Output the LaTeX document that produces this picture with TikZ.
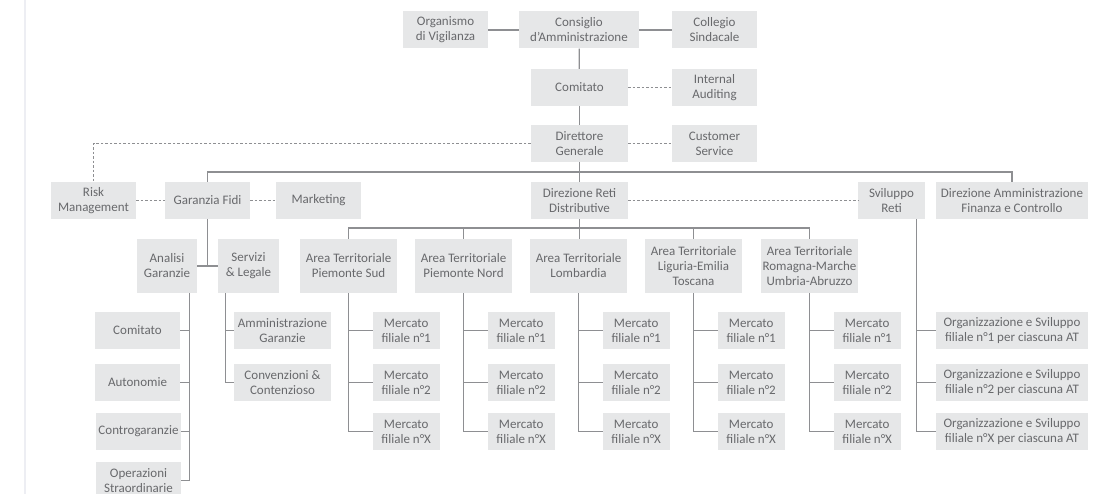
\documentclass[tikz,border=0pt]{standalone}
\usepackage{fontspec}
\setmainfont{Carlito}
\definecolor{boxgrey}{HTML}{E6E7E8}
\definecolor{txtgrey}{HTML}{68696C}
\definecolor{linegrey}{HTML}{8E8F92}
\definecolor{edgegrey}{HTML}{EDEEF3}
\tikzset{
  box/.style={fill=boxgrey, text=txtgrey, align=center, inner sep=0pt,
    minimum height=37pt, font=\fontsize{13}{15}\selectfont},
  tallbox/.style={box, minimum height=54pt, minimum width=97pt},
  link/.style={draw=linegrey, line width=1.2pt},
  dots/.style={link, dash pattern=on 2.5pt off 2pt},
}

\begin{document}
\begin{tikzpicture}[x=1pt,y=-1pt]
    \useasboundingbox (0,0) rectangle (1100,494);
    \fill[white] (0,0) rectangle (1100,494);
    \draw[edgegrey, line width=2.5pt] (25,0) -- (25,494);
    % vertice
    \node[box, minimum width=85pt] (org) at (445.5,30) {Organismo\\di Vigilanza};
    \node[box, minimum width=120pt] (cda) at (579,30) {Consiglio\\d’Amministrazione};
    \node[box, minimum width=85pt] (col) at (714.5,30) {Collegio\\Sindacale};
    \node[box, minimum width=97pt] (com) at (579.5,87.5) {Comitato};
    \node[box, minimum width=85pt] (aud) at (714.5,87.5) {Internal\\Auditing};
    \node[box, minimum width=97pt] (dg) at (579.5,143.5) {Direttore\\Generale};
    \node[box, minimum width=85pt] (cs) at (714.5,143.5) {Customer\\Service};
    \draw[link] (org) -- (cda);
    \draw[link] (cda) -- (col);
    \draw[link] (cda) -- (com);
    \draw[link] (com) -- (dg);
    \draw[dots] (com) -- (aud);
    \draw[dots] (dg) -- (cs);
    % direzioni
    \node[box, minimum width=85pt] (risk) at (93.5,200.5) {Risk\\Management};
    \node[box, minimum width=85pt] (gf) at (207.5,200.5) {Garanzia Fidi};
    \node[box, minimum width=85pt] (mkt) at (318.5,200.5) {Marketing};
    \node[box, minimum width=97pt] (drd) at (579.5,200.5) {Direzione Reti\\Distributive};
    \node[box, minimum width=67pt] (svr) at (891.5,200.5) {Sviluppo\\Reti};
    \node[box, minimum width=152pt] (dafc) at (1012,200.5) {Direzione Amministrazione\\Finanza e Controllo};
    \coordinate (bus) at (579.5,172);
    \draw[link] (dg) -- (drd);
    \draw[link] (gf.north) |- (bus) -| (dafc.north);
    \draw[dots] (dg.west) -| (risk.north);
    \draw[dots] (risk) -- (gf);
    \draw[dots] (gf) -- (mkt);
    \draw[dots] (drd) -- (svr);
    % garanzia fidi
    \node[box, minimum width=60pt, minimum height=54pt] (ag) at (167,266) {Analisi\\Garanzie};
    \node[box, minimum width=61pt, minimum height=54pt] (sl) at (248.5,266) {Servizi\\\& Legale};
    \draw[link] (ag) -- (sl);
    \draw[link] (gf.south) -- (gf.south |- ag.east);
    \node[box, minimum width=85pt] (agc1) at (137.5,330.5) {Comitato};
    \node[box, minimum width=85pt] (agc2) at (137.5,382.5) {Autonomie};
    \node[box, minimum width=85pt] (agc3) at (138.5,431.5) {Controgaranzie};
    \node[box, minimum width=85pt] (agc4) at (138.5,480.5) {Operazioni\\Straordinarie};
    \coordinate (agv) at ([xshift=-8pt]ag.south east);
    \draw[link] (agv) |- (agc4.east);
    \draw[link] (agc1.east) -- (agc1.east -| agv);
    \draw[link] (agc2.east) -- (agc2.east -| agv);
    \draw[link] (agc3.east) -- (agc3.east -| agv);
    \node[box, minimum width=97pt] (slc1) at (282.5,330.5) {Amministrazione\\Garanzie};
    \node[box, minimum width=97pt] (slc2) at (282.5,382.5) {Convenzioni \&\\Contenzioso};
    \coordinate (slv) at ([xshift=8pt]sl.south west);
    \draw[link] (slv) |- (slc2.west);
    \draw[link] (slc1.west) -- (slc1.west -| slv);
    % aree territoriali
    \node[tallbox] (at1) at (348.5,266) {Area Territoriale\\Piemonte Sud};
    \node[tallbox] (at2) at (463.5,266) {Area Territoriale\\Piemonte Nord};
    \node[tallbox] (at3) at (578.5,266) {Area Territoriale\\Lombardia};
    \node[tallbox] (at4) at (693.5,266) {Area Territoriale\\Liguria-Emilia\\Toscana};
    \node[tallbox] (at5) at (809.5,266) {Area Territoriale\\Romagna-Marche\\Umbria-Abruzzo};
    \coordinate (abus) at (579.5,228);
    \draw[link] (drd.south) -- (drd.south |- at3.north);
    \draw[link] (at1.north) |- (abus) -| (at5.north);
    \draw[link] (at2.north) -- (at2.north |- abus);
    \draw[link] (at4.north) -- (at4.north |- abus);
    \foreach \a in {1,...,5}{
      \node[box, minimum width=67pt, anchor=west] (m\a1) at ([xshift=24pt]at\a.south |- 0,330.5) {Mercato\\filiale n°1};
      \node[box, minimum width=67pt, anchor=west] (m\a2) at ([xshift=24pt]at\a.south |- 0,382.5) {Mercato\\filiale n°2};
      \node[box, minimum width=67pt, anchor=west] (m\a3) at ([xshift=24pt]at\a.south |- 0,431.5) {Mercato\\filiale n°X};
      \draw[link] (at\a.south) |- (m\a3.west);
      \draw[link] (m\a1.west) -- (m\a1.west -| at\a.south);
      \draw[link] (m\a2.west) -- (m\a2.west -| at\a.south);
    }
    % sviluppo reti
    \node[box, minimum width=152pt] (os1) at (1012,330.5) {Organizzazione e Sviluppo\\filiale n°1 per ciascuna AT};
    \node[box, minimum width=152pt] (os2) at (1012,382.5) {Organizzazione e Sviluppo\\filiale n°2 per ciascuna AT};
    \node[box, minimum width=152pt] (os3) at (1012,431.5) {Organizzazione e Sviluppo\\filiale n°X per ciascuna AT};
    \coordinate (svv) at ([xshift=-9pt]svr.south east);
    \draw[link] (svv) |- (os3.west);
    \draw[link] (os1.west) -- (os1.west -| svv);
    \draw[link] (os2.west) -- (os2.west -| svv);
\end{tikzpicture}
\end{document}
